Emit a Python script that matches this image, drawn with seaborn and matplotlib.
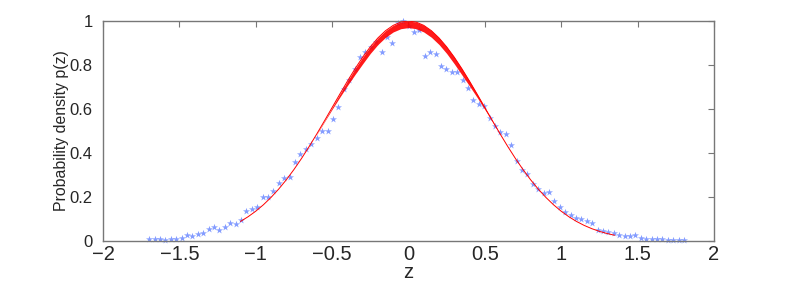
import numpy as np
import matplotlib
matplotlib.use("Agg")
import matplotlib.pyplot as plt
import seaborn as sns

# measured samples (blue stars), 100 points evenly spaced in z
z_lo, z_hi, n_pts = -1.697, 1.804, 100
p_meas = [0.008, 0.009, 0.008, 0.005, 0.008, 0.011, 0.014, 0.026, 0.024, 0.030,
          0.036, 0.053, 0.062, 0.048, 0.064, 0.080, 0.077, 0.095, 0.135, 0.144,
          0.154, 0.199, 0.199, 0.226, 0.265, 0.285, 0.290, 0.357, 0.396, 0.418,
          0.439, 0.468, 0.502, 0.500, 0.555, 0.609, 0.691, 0.730, 0.782, 0.837,
          0.859, 0.880, 0.905, 0.859, 0.925, 0.901, 0.990, 1.000, 0.978, 0.948,
          0.960, 0.839, 0.859, 0.848, 0.795, 0.780, 0.768, 0.768, 0.733, 0.694,
          0.642, 0.621, 0.615, 0.560, 0.525, 0.496, 0.488, 0.436, 0.365, 0.325,
          0.304, 0.257, 0.235, 0.220, 0.224, 0.181, 0.155, 0.130, 0.117, 0.104,
          0.100, 0.092, 0.080, 0.052, 0.046, 0.042, 0.036, 0.029, 0.021, 0.021,
          0.026, 0.012, 0.011, 0.009, 0.009, 0.009, 0.003, 0.006, 0.005, 0.005]

# fitted curve (red), read every 0.05 from -1.10 to 1.35
z_fit = [-1.10, -1.05, -1.00, -0.95, -0.90, -0.85, -0.80, -0.75, -0.70, -0.65,
         -0.60, -0.55, -0.50, -0.45, -0.40, -0.35, -0.30, -0.25, -0.20, -0.15,
         -0.10, -0.05, 0.00, 0.05, 0.10, 0.15, 0.20, 0.25, 0.30, 0.35,
         0.40, 0.45, 0.50, 0.55, 0.60, 0.65, 0.70, 0.75, 0.80, 0.85,
         0.90, 0.95, 1.00, 1.05, 1.10, 1.15, 1.20, 1.25, 1.30, 1.35]
p_fit = [0.0889, 0.1103, 0.1353, 0.1645, 0.1979, 0.2357, 0.2780, 0.3247, 0.3753, 0.4296,
         0.4868, 0.5461, 0.6065, 0.6670, 0.7261, 0.7827, 0.8353, 0.8825, 0.9231, 0.9560,
         0.9802, 0.9950, 1.0000, 0.9950, 0.9802, 0.9560, 0.9231, 0.8825, 0.8353, 0.7827,
         0.7261, 0.6670, 0.6065, 0.5461, 0.4868, 0.4296, 0.3753, 0.3247, 0.2780, 0.2357,
         0.1979, 0.1645, 0.1353, 0.1103, 0.0889, 0.0710, 0.0561, 0.0439, 0.0340, 0.0261]

# lower edge of the thick red band around the peak (z from -0.60 to 0.60)
band_lo = [0.4848, 0.5421, 0.5985, 0.6530, 0.7061, 0.7567, 0.8053, 0.8525, 0.8931, 0.9260,
           0.9502, 0.9650, 0.9700, 0.9650, 0.9502, 0.9260, 0.8931, 0.8525, 0.8053, 0.7547,
           0.7041, 0.6520, 0.5975, 0.5421, 0.4848]

z_meas = np.linspace(z_lo, z_hi, n_pts)

sns.set_style("white")
plt.rcParams['font.family'] = ['Liberation Sans', 'DejaVu Sans']

fig = plt.figure(figsize=(7.89, 2.83), dpi=100)
ax = fig.add_axes([0.1305, 0.1484, 0.7744, 0.7774])

sns.scatterplot(x=z_meas, y=p_meas, marker='*', s=28, color='#4f72ff', alpha=0.7,
                linewidth=0, ax=ax, clip_on=False, zorder=2)
sns.lineplot(x=z_fit, y=p_fit, color='red', linewidth=0.7, ax=ax, zorder=3)
ax.fill_between(z_fit[10:35], band_lo, p_fit[10:35], color='red', alpha=0.9,
                linewidth=0, zorder=3)

ax.set_xlim(-2, 2)
ax.set_ylim(0, 1)
xt = [-2, -1.5, -1, -0.5, 0, 0.5, 1, 1.5, 2]
ax.set_xticks(xt)
ax.set_xticklabels(['\u22122', '\u22121.5', '\u22121', '\u22120.5', '0', '0.5', '1', '1.5', '2'])
yt = [0, 0.2, 0.4, 0.6, 0.8, 1]
ax.set_yticks(yt)
ax.set_yticklabels(['0', '0.2', '0.4', '0.6', '0.8', '1'])
ax.tick_params(direction='in', length=4.5, width=0.8, color='#777777',
               top=True, right=True, labelsize=14.5, pad=3)
ax.tick_params(axis='y', pad=7.5, labelsize=12)
for s in ax.spines.values():
    s.set_visible(True)
    s.set_color('#777777')
    s.set_linewidth(1.0)

ax.set_xlabel('z', fontsize=14.5, labelpad=-1)
ax.set_ylabel('Probability density p(z)', fontsize=11.4)
ax.yaxis.set_label_coords(-0.056, 0.5)

fig.savefig('out.png', dpi=100)
